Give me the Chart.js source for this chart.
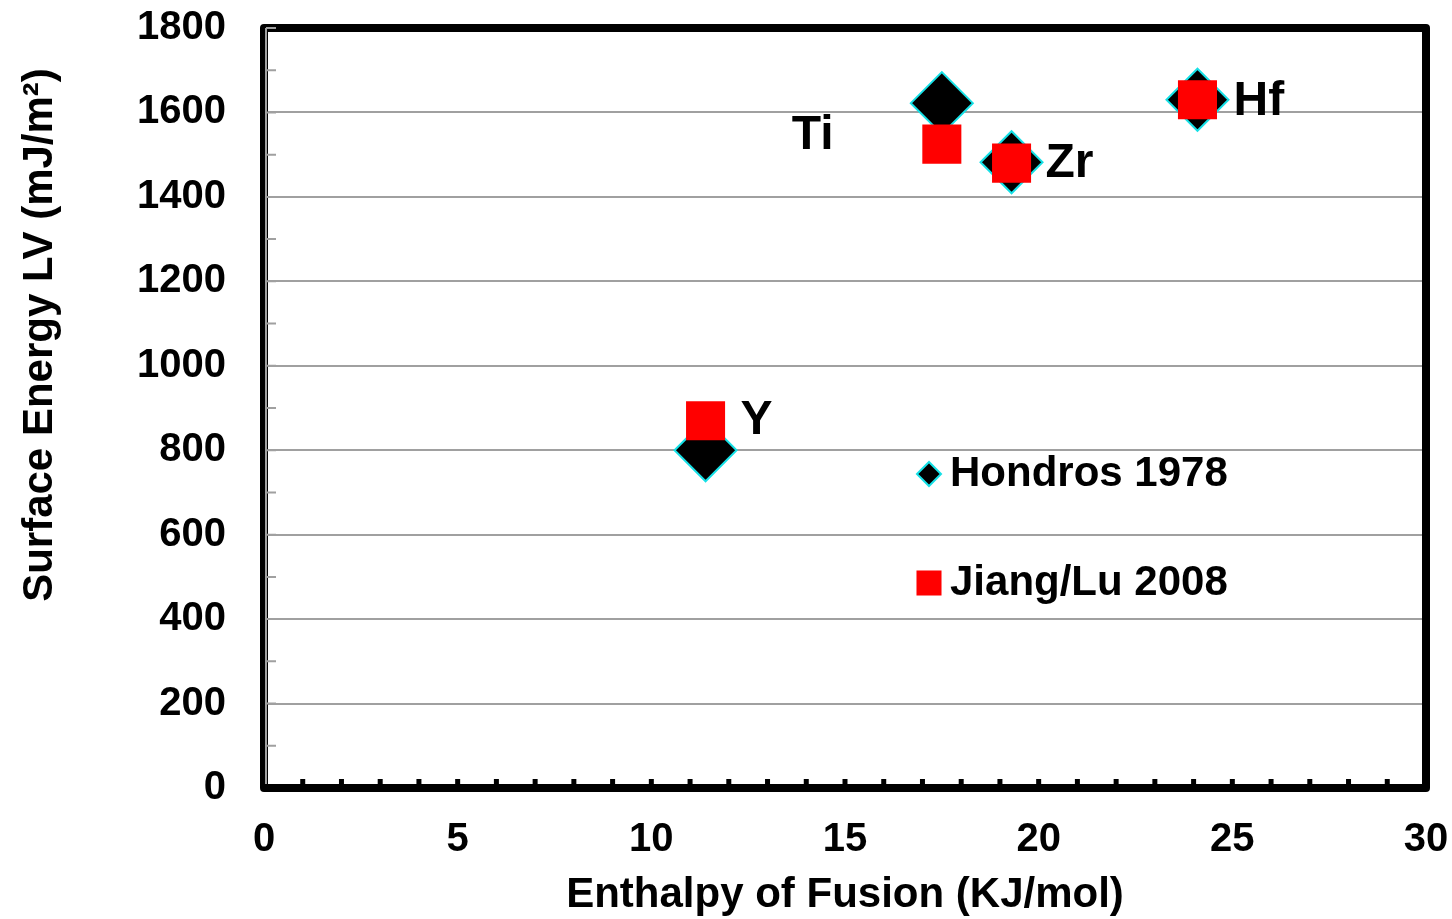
<!DOCTYPE html>
<html>
<head>
<meta charset="utf-8">
<script src="https://cdn.jsdelivr.net/npm/chart.js@4.4.1/dist/chart.umd.min.js"></script>
<style>
  html, body { margin: 0; padding: 0; background: #ffffff; }
  canvas { display: block; }
</style>
</head>
<body>
<canvas id="chart" width="1452" height="919"></canvas>
<script>
// Liquid–vapour surface energy of Group 3/4 metals versus enthalpy of fusion
const elements = ['Y', 'Ti', 'Zr', 'Hf'];
const enthalpyOfFusion = [11.4, 17.5, 19.3, 24.1];   // kJ/mol
const hondros1978 = [800, 1622, 1482, 1630];          // mJ/m²
const jiangLu2008 = [870, 1525, 1480, 1630];          // mJ/m²
const seriesNames = ['Hondros 1978', 'Jiang/Lu 2008'];
const xTickValues = [0, 5, 10, 15, 20, 25, 30];
const yTickValues = [0, 200, 400, 600, 800, 1000, 1200, 1400, 1600, 1800];

const FONT = '"Liberation Sans", Arial, Helvetica, sans-serif';
const GRID_GREY = '#a0a0a0';

const toPoints = (ys) => enthalpyOfFusion.map((x, i) => ({ x, y: ys[i] }));

// label placement next to each element's marker (pixel offsets)
const labelPlacement = {
  Y:  { dx: 35,   dy: 0 },
  Ti: { dx: -150, dy: -8 },
  Zr: { dx: 34,   dy: 1 },
  Hf: { dx: 36,   dy: 2 }
};

const styleHondros = { pointStyle: 'rectRot', radius: 31, fill: '#000000', stroke: '#16e0e6', borderWidth: 2 };
const styleJiang   = { pointStyle: 'rect', radius: 27.6, fill: '#ff0000', stroke: '#ff0000', borderWidth: 0 };

// keep the plot area fixed: tick labels may overhang into the margins
const noOverhang = (scale) => {
  scale.paddingTop = 0;
  scale.paddingBottom = 0;
  scale.paddingLeft = 0;
  scale.paddingRight = 0;
};

// plot frame, inner axis line, minor ticks, element labels, legend and axis titles
const framePlugin = {
  id: 'frame',
  beforeDatasetsDraw(chart) {
    const { ctx, chartArea: a, scales: { x, y } } = chart;
    ctx.save();
    // black x minor ticks pointing into the plot
    ctx.strokeStyle = '#000000';
    ctx.lineWidth = 5;
    ctx.beginPath();
    for (let v = x.min + 1; v < x.max; v += 1) {
      const px = x.getPixelForValue(v);
      ctx.moveTo(px, a.bottom);
      ctx.lineTo(px, a.bottom - 9);
    }
    ctx.stroke();
    // heavy black frame
    ctx.lineWidth = 8;
    ctx.lineJoin = 'round';
    ctx.strokeRect(a.left, a.top, a.right - a.left, a.bottom - a.top);
    // grey value axis with minor ticks
    ctx.strokeStyle = GRID_GREY;
    ctx.lineWidth = 2;
    ctx.beginPath();
    const ax = a.left + 2;
    ctx.moveTo(ax, a.top);
    ctx.lineTo(ax, a.bottom - 4);
    for (let v = y.min + 100; v <= y.max; v += 100) {
      const py = y.getPixelForValue(v);
      ctx.moveTo(ax, py);
      ctx.lineTo(ax + 10, py);
    }
    ctx.stroke();
    ctx.restore();
  },
  afterDatasetsDraw(chart) {
    const { ctx, chartArea: a } = chart;
    ctx.save();
    ctx.fillStyle = '#000000';
    // element labels
    const meta = chart.getDatasetMeta(1);
    ctx.font = 'bold 48px ' + FONT;
    ctx.textAlign = 'left';
    ctx.textBaseline = 'middle';
    elements.forEach((el, i) => {
      const pt = meta.data[i];
      const p = labelPlacement[el];
      ctx.fillText(el, pt.x + p.dx, pt.y + p.dy);
    });
    // legend
    const lx = a.left + 665;
    const rows = [a.top + 446, a.top + 555];
    const styles = [styleHondros, styleJiang];
    ctx.font = 'bold 42px ' + FONT;
    styles.forEach((s, i) => {
      ctx.fillStyle = s.fill;
      ctx.strokeStyle = s.stroke;
      ctx.lineWidth = s.borderWidth;
      Chart.helpers.drawPoint(ctx, {
        pointStyle: s.pointStyle,
        radius: s.pointStyle === 'rect' ? 17.7 : 12,
        borderWidth: s.borderWidth,
        rotation: 0
      }, lx, rows[i]);
      ctx.fillStyle = '#000000';
      ctx.fillText(seriesNames[i], lx + 21, rows[i]);
    });
    // axis titles
    ctx.font = 'bold 42px ' + FONT;
    ctx.textAlign = 'center';
    ctx.fillText('Enthalpy of Fusion (KJ/mol)', (a.left + a.right) / 2, 895);
    ctx.translate(40, 335);
    ctx.rotate(-Math.PI / 2);
    ctx.fillText('Surface Energy LV (mJ/m\u00B2)', 0, 0);
    ctx.restore();
  }
};

new Chart(document.getElementById('chart'), {
  type: 'scatter',
  data: {
    datasets: [
      {
        label: seriesNames[0],
        data: toPoints(hondros1978),
        pointStyle: styleHondros.pointStyle,
        pointRadius: styleHondros.radius,
        pointHoverRadius: styleHondros.radius,
        backgroundColor: styleHondros.fill,
        borderColor: styleHondros.stroke,
        borderWidth: styleHondros.borderWidth,
        order: 2
      },
      {
        label: seriesNames[1],
        data: toPoints(jiangLu2008),
        pointStyle: styleJiang.pointStyle,
        pointRadius: styleJiang.radius,
        pointHoverRadius: styleJiang.radius,
        backgroundColor: styleJiang.fill,
        borderColor: styleJiang.stroke,
        borderWidth: styleJiang.borderWidth,
        order: 1
      }
    ]
  },
  options: {
    responsive: false,
    devicePixelRatio: 1,
    animation: false,
    layout: { autoPadding: false, padding: { left: 0, right: 26, top: 28, bottom: 0 } },
    plugins: {
      legend: { display: false },
      tooltip: { enabled: false }
    },
    scales: {
      x: {
        type: 'linear',
        min: xTickValues[0],
        max: xTickValues[xTickValues.length - 1],
        afterBuildTicks: (scale) => { scale.ticks = xTickValues.map(v => ({ value: v })); },
        afterFit: (scale) => { scale.height = 131; noOverhang(scale); },
        grid: { display: false },
        border: { display: false },
        ticks: {
          color: '#000000',
          padding: 20,
          maxRotation: 0,
          callback: (v) => String(v),
          font: { family: FONT, size: 40, weight: 'bold' }
        }
      },
      y: {
        type: 'linear',
        min: yTickValues[0],
        max: yTickValues[yTickValues.length - 1],
        afterBuildTicks: (scale) => { scale.ticks = yTickValues.map(v => ({ value: v })); },
        afterFit: (scale) => { scale.width = 264; noOverhang(scale); },
        grid: { color: GRID_GREY, lineWidth: 2, drawTicks: false },
        border: { display: false },
        ticks: {
          color: '#000000',
          padding: 38,
          callback: (v) => String(v),
          font: { family: FONT, size: 40, weight: 'bold' }
        }
      }
    }
  },
  plugins: [framePlugin]
});
</script>
</body>
</html>
